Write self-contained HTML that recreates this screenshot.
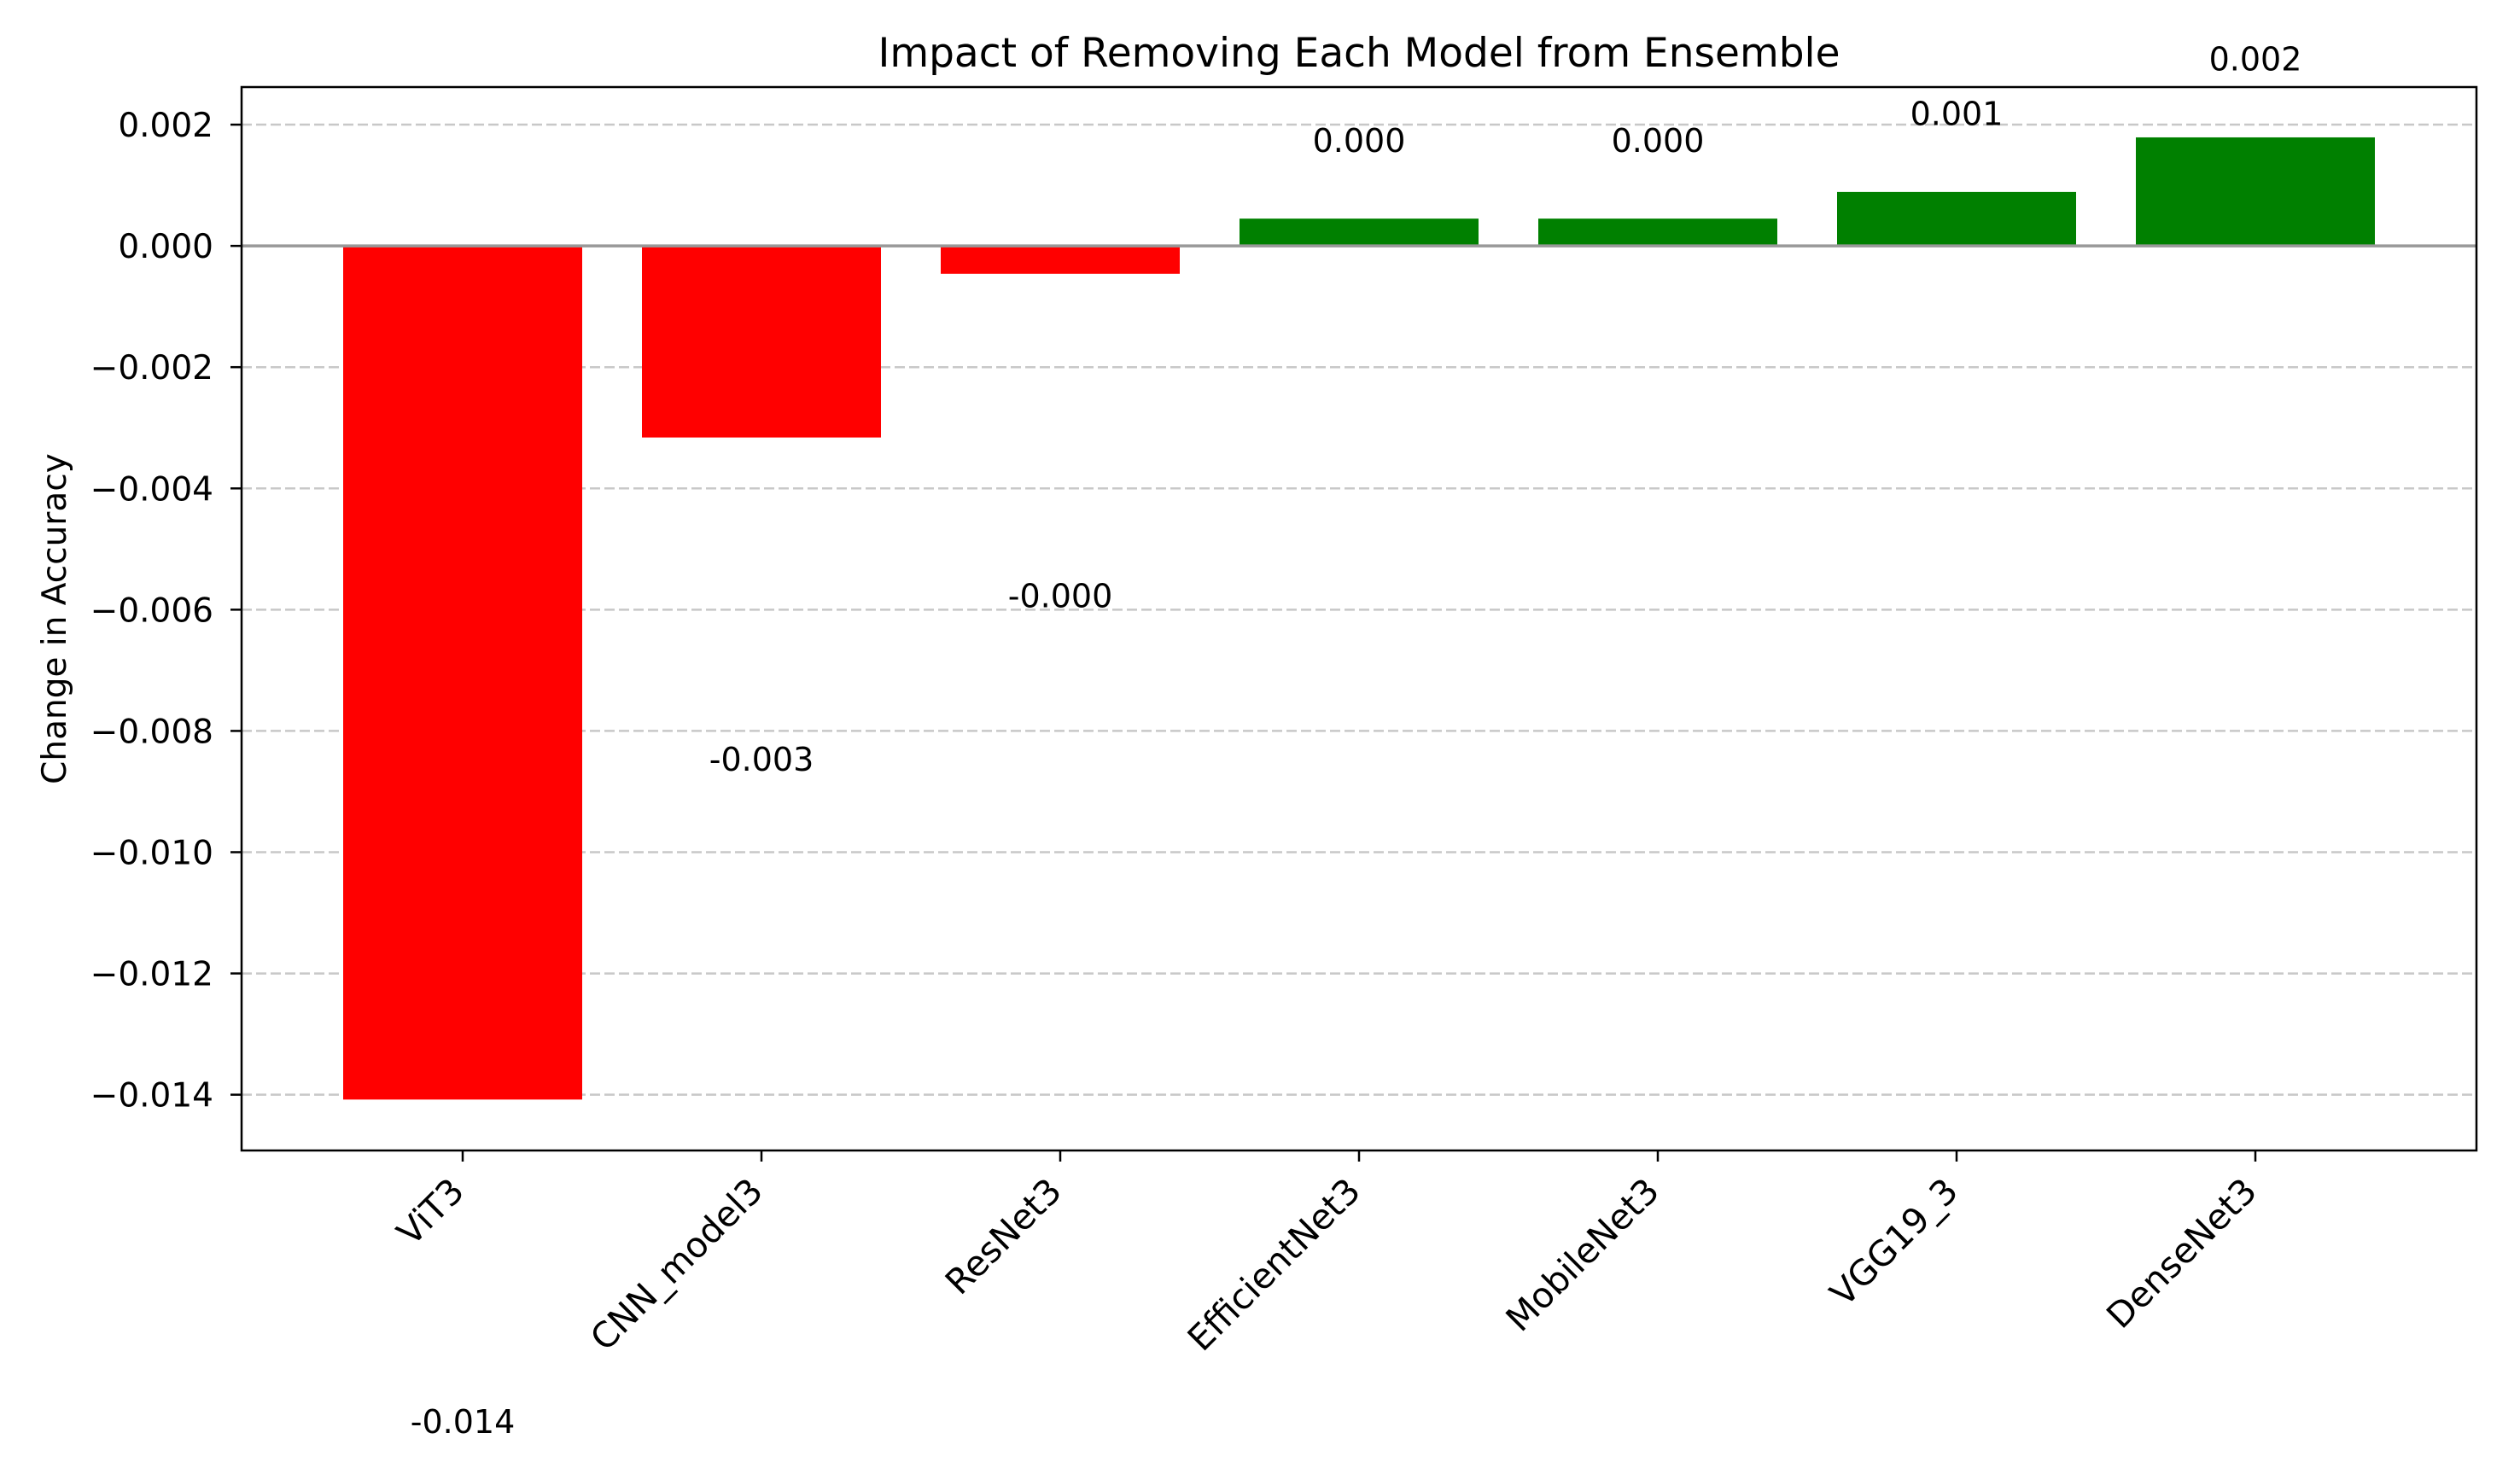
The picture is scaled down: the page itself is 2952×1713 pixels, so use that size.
<!DOCTYPE html>
<html><head><meta charset="utf-8"><style>
html,body{margin:0;padding:0;background:#fff;}
svg{display:block;font-family:"DejaVu Sans","Liberation Sans",sans-serif;}
</style></head><body>
<svg id="chart" width="2952" height="1713" viewBox="0 0 2952 1713" xmlns="http://www.w3.org/2000/svg">
<rect width="2952" height="1713" fill="#fff"/>
<g id="grid"></g>
<g id="bars"></g>
<g id="axes"></g>
<g id="labels"></g>
</svg>
<script>
const categories = ["ViT3","CNN_model3","ResNet3","EfficientNet3","MobileNet3","VGG19_3","DenseNet3"];
const values = [-0.01408,-0.00316,-0.00046,0.00045,0.00045,0.00089,0.00179];
const valueLabels = ["-0.014","-0.003","-0.000","0.000","0.000","0.001","0.002"];
const yTicks = [0.002,0,-0.002,-0.004,-0.006,-0.008,-0.010,-0.012,-0.014];
const yTickLabels = ["0.002","0.000","\u22120.002","\u22120.004","\u22120.006","\u22120.008","\u22120.010","\u22120.012","\u22120.014"];

const NS="http://www.w3.org/2000/svg";
const L=283,R=2901,T=102,B=1348;
const yMin=-0.01492,yMax=0.00262;
const xMin=-0.74,xMax=categories.length-1+0.74;
const X=v=>L+(v-xMin)/(xMax-xMin)*(R-L);
const Y=v=>T+(yMax-v)/(yMax-yMin)*(B-T);
function mk(tag,attrs,parent){const e=document.createElementNS(NS,tag);for(const k in attrs)e.setAttribute(k,attrs[k]);parent.appendChild(e);return e;}
const grid=document.getElementById('grid'),bars=document.getElementById('bars'),axes=document.getElementById('axes'),labels=document.getElementById('labels');

yTicks.forEach((t,i)=>{
  const y=Y(t);
  const g=mk('line',{x1:L,x2:R,y1:y,y2:y,stroke:'#c8c8c8','stroke-width':2.5,'stroke-dasharray':'12,5'},grid);
  
  
  const tk=mk('line',{x1:L-13,x2:L,y1:y,y2:y,stroke:'#000','stroke-width':2.5},axes);
  
  
  const tl=mk('text',{x:L-33,y:y+14,'text-anchor':'end','font-size':39,fill:'#000'},axes);
  tl.textContent=yTickLabels[i];
  
  
});

const bw=(X(0.8)-X(0));
categories.forEach((c,i)=>{
  const v=values[i];
  const y0=Y(0),y1=Y(v);
  const r=mk('rect',{x:X(i)-bw/2,y:Math.min(y0,y1),width:bw,height:Math.abs(y1-y0),fill:v<0?'#ff0000':'#008000'},bars);
  
  
  const ly=Y(v+(v<0?-0.0053:0.0013))+14;
  const t=mk('text',{x:X(i),y:ly,'text-anchor':'middle','font-size':38,fill:'#000'},labels);
  t.textContent=valueLabels[i];
  
  
  const tk=mk('line',{x1:X(i),x2:X(i),y1:B,y2:B+13,stroke:'#000','stroke-width':2.5},axes);
  
  
  const xl=mk('text',{x:0,y:0,'text-anchor':'end','font-size':41,fill:'#000',transform:`translate(${X(i)+4},${B+50}) rotate(-45)`},axes);
  xl.textContent=c;
  
  
});

const z=mk('line',{x1:L,x2:R,y1:Y(0),y2:Y(0),stroke:'#999','stroke-width':3.5},axes);


const fr=mk('rect',{x:L,y:T,width:R-L,height:B-T,fill:'none',stroke:'#000','stroke-width':2.5},axes);


const title=mk('text',{x:(L+R)/2,y:78,'text-anchor':'middle','font-size':47,fill:'#000'},axes);
title.textContent='Impact of Removing Each Model from Ensemble';


const yl=mk('text',{x:0,y:0,'text-anchor':'middle','font-size':39,fill:'#000',transform:`translate(77,${(T+B)/2}) rotate(-90)`},axes);
yl.textContent='Change in Accuracy';


</script>
</body></html>
